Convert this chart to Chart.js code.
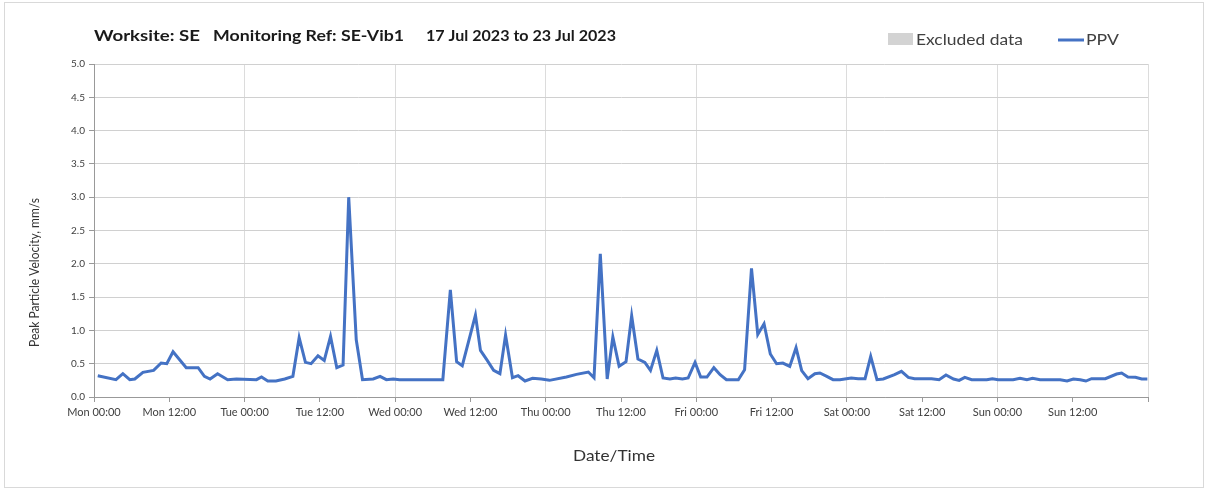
<!DOCTYPE html>
<html><head><meta charset="utf-8">
<script src="https://cdn.jsdelivr.net/npm/chart.js@4/dist/chart.umd.min.js"></script>
<style>html,body{margin:0;padding:0;background:#fff}#wrap{width:1208px;height:491px;position:relative}</style>
</head><body><div id="wrap"><canvas id="c" width="1208" height="491"></canvas></div>
<script>
// Hours since Mon 17 Jul 2023 00:00
const hours = [0.6,3.5,4.6,5.7,6.5,7.8,9.5,10.7,11.6,12.6,14.7,16.6,17.6,18.5,19.7,21.3,22.7,25.9,26.7,27.7,
  29.0,30.4,31.7,32.7,33.7,34.6,35.7,36.7,37.7,38.7,39.7,40.6,41.8,42.8,44.5,45.6,46.6,47.7,48.7,55.6,
  56.8,57.8,58.7,60.8,61.6,62.6,63.7,64.7,65.6,66.7,67.6,68.7,69.9,71.3,72.6,75.3,76.9,78.8,79.7,80.7,
  81.8,82.7,83.7,84.8,85.7,86.7,87.8,88.7,89.7,90.7,91.8,92.7,93.8,94.7,95.8,96.7,97.7,98.8,99.8,100.8,
  102.7,103.7,104.8,105.8,106.8,107.8,108.8,109.8,110.9,111.9,112.8,113.8,114.9,115.7,116.8,117.8,118.9,120.7,121.8,122.9,
  123.8,124.8,125.8,127.6,128.7,129.8,130.8,133.5,134.7,135.8,137.0,137.9,138.8,139.9,142.3,143.2,144.1,146.5,147.6,148.7,
  149.6,150.8,154.0,155.1,156.1,157.2,158.1,159.0,161.2,163.0,163.8,164.8,166.0,167.0,167.9];
const ppv = [0.32,0.26,0.35,0.26,0.27,0.37,0.40,0.51,0.50,0.68,0.44,0.44,0.31,0.27,0.35,0.26,0.27,0.26,0.30,0.24,
  0.24,0.27,0.31,0.89,0.52,0.50,0.62,0.55,0.91,0.44,0.48,3.00,0.86,0.26,0.27,0.31,0.26,0.27,0.26,0.26,
  1.61,0.53,0.47,1.23,0.70,0.56,0.40,0.35,0.93,0.29,0.32,0.24,0.28,0.27,0.25,0.30,0.34,0.375,0.29,2.15,
  0.27,0.90,0.46,0.53,1.22,0.57,0.52,0.40,0.70,0.285,0.27,0.285,0.27,0.285,0.52,0.30,0.30,0.44,0.335,0.26,
  0.26,0.41,1.93,0.94,1.10,0.645,0.50,0.51,0.46,0.74,0.395,0.275,0.35,0.36,0.31,0.26,0.26,0.285,0.275,0.275,
  0.61,0.26,0.27,0.335,0.385,0.295,0.275,0.275,0.26,0.33,0.27,0.25,0.295,0.26,0.26,0.275,0.26,0.26,0.28,0.26,
  0.28,0.26,0.26,0.24,0.27,0.26,0.24,0.275,0.275,0.345,0.36,0.30,0.295,0.27,0.27];
const tickLabels = ['Mon 00:00','Mon 12:00','Tue 00:00','Tue 12:00','Wed 00:00','Wed 12:00','Thu 00:00',
  'Thu 12:00','Fri 00:00','Fri 12:00','Sat 00:00','Sat 12:00','Sun 00:00','Sun 12:00'];
const titleParts = ['Worksite: SE','Monitoring Ref: SE-Vib1','17 Jul 2023 to 23 Jul 2023'];
const legendLabels = ['Excluded data','PPV'];
const yTitle = 'Peak Particle Velocity, mm/s';
const xTitle = 'Date/Time';

const FONT = 'Lato, "Open Sans", sans-serif';
const LINE = '#4472C4';

// draw text stretched/compressed horizontally to an exact width
function fitText(c, text, x, y, width, font, rot) {
  c.save();
  c.font = font;
  const w = c.measureText(text).width;
  c.translate(x, y);
  if (rot) c.rotate(rot);
  c.scale(width / w, 1);
  c.fillText(text, 0, 0);
  c.restore();
}

const decor = {
  id: 'decor',
  beforeDraw(chart) {
    const c = chart.ctx;
    c.save();
    c.fillStyle = '#fff';
    c.fillRect(0, 0, chart.width, chart.height);
    c.strokeStyle = '#d9d9d9';
    c.lineWidth = 1;
    c.strokeRect(4.5, 2.5, 1199, 485);
    c.restore();
  },
  afterDraw(chart) {
    const c = chart.ctx;
    c.save();
    c.textBaseline = 'middle';
    c.textAlign = 'left';
    c.fillStyle = '#1a1a1a';
    const tx = [94, 213, 426];
    const tw = [106, 191, 190];
    titleParts.forEach((t, i) => fitText(c, t, tx[i], 36, tw[i], 'bold 16px ' + FONT));
    // legend
    c.fillStyle = '#d3d3d3';
    c.fillRect(888, 33, 25, 12);
    c.fillStyle = '#404040';
    fitText(c, legendLabels[0], 916, 40, 107, '16px ' + FONT);
    c.strokeStyle = LINE;
    c.lineWidth = 3;
    c.beginPath(); c.moveTo(1058, 40); c.lineTo(1084, 40); c.stroke();
    fitText(c, legendLabels[1], 1086, 40, 33, '16px ' + FONT);
    // axis titles
    c.fillStyle = '#333';
    fitText(c, xTitle, 573, 456, 82, '16px ' + FONT);
    fitText(c, yTitle, 35, 347, 149, '13px ' + FONT, -Math.PI / 2);
    c.restore();
  }
};

new Chart(document.getElementById('c'), {
  type: 'line',
  data: {
    datasets: [{
      label: legendLabels[1],
      data: hours.map((h, i) => ({ x: h, y: ppv[i] })),
      borderColor: LINE,
      backgroundColor: LINE,
      borderWidth: 3,
      pointRadius: 0,
      tension: 0,
      fill: false
    }]
  },
  options: {
    responsive: false,
    animation: false,
    devicePixelRatio: 1,
    layout: { padding: { top: 64, right: 60, left: 0, bottom: 0 } },
    plugins: { legend: { display: false }, title: { display: false }, tooltip: { enabled: false } },
    scales: {
      x: {
        type: 'linear', min: 0, max: 168,
        afterFit: s => { s.height = 94; },
        afterBuildTicks: s => { s.ticks = tickLabels.map((_, i) => ({ value: i * 12 })).concat([{ value: 168 }]); },
        ticks: {
          stepSize: 12, autoSkip: false, maxRotation: 0, minRotation: 0, padding: 4,
          callback: v => tickLabels[v / 12] ?? '',
          font: { family: FONT, size: 11 }, color: '#404040'
        },
        grid: {
          color: ctx => (ctx.tick && ctx.tick.value % 24 === 0) ? '#dcdcdc' : 'rgba(0,0,0,0)',
          tickColor: '#999', tickLength: 5, lineWidth: 1
        },
        border: { color: '#999' },
        title: { display: false }
      },
      y: {
        min: 0, max: 5,
        afterFit: s => { s.width = 94; },
        ticks: {
          stepSize: 0.5, padding: 4,
          callback: v => Number(v).toFixed(1),
          font: { family: FONT, size: 10 }, color: '#404040'
        },
        grid: { color: '#d0d0d0', tickColor: '#999', tickLength: 5 },
        border: { color: '#999' },
        title: { display: false }
      }
    }
  },
  plugins: [decor]
});
</script>
</body></html>
